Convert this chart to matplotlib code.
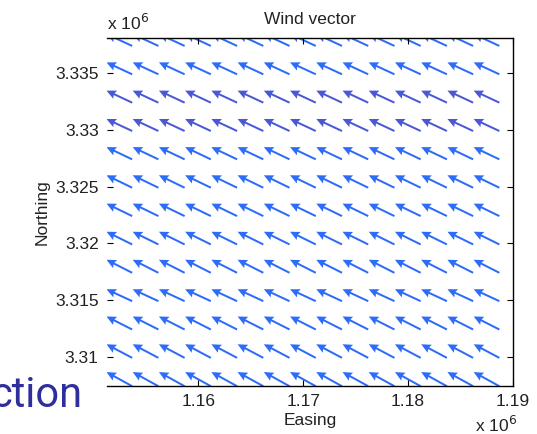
import matplotlib.pyplot as plt
import numpy as np

# grid of station positions (UTM metres)
easting = [1153700, 1156200, 1158700, 1161200, 1163700, 1166200, 1168700, 1171200,
           1173700, 1176200, 1178700, 1181200, 1183700, 1186200, 1188700]
northing = [3307400, 3309900, 3312400, 3314900, 3317400, 3319900, 3322400,
            3324900, 3327400, 3329900, 3332400, 3334900, 3337400]

# wind components for each row of the grid (bottom to top)
u_row = [-2450, -2450, -2450, -2450, -2450, -2450, -2450, -2450, -2450, -2450, -2450, -2450, -2450]
v_row = [1250, 1200, 1150, 1050, 1150, 1120, 1100, 1100, 1080, 1060, 1060, 1050, 1050]

xticks = [1160000, 1170000, 1180000, 1190000]
xticklabels = ['1.16', '1.17', '1.18', '1.19']
yticks = [3310000, 3315000, 3320000, 3325000, 3330000, 3335000]
yticklabels = ['3.31', '3.315', '3.32', '3.325', '3.33', '3.335']

plt.rcParams['font.family'] = ['Liberation Sans', 'DejaVu Sans']

X, Y = np.meshgrid(easting, northing)
U = np.repeat(np.array(u_row, dtype=float)[:, None], len(easting), axis=1)
V = np.repeat(np.array(v_row, dtype=float)[:, None], len(easting), axis=1)

fig = plt.figure(figsize=(5.37, 4.34), dpi=100)
ax = fig.add_axes([107 / 537, 1 - 386 / 434, (513 - 107) / 537, (386 - 38) / 434])

cols = ['#2d6cf8'] * len(northing)
cols[9] = '#4b58d6'
cols[10] = '#4b58d6'
for i, yv in enumerate(northing):
    ax.quiver(X[i], Y[i], U[i], V[i], color=cols[i], angles='xy', scale_units='xy', scale=1,
              pivot='tail', units='dots', width=2.0, headwidth=4.5, headlength=4.8,
              headaxislength=4.2, clip_on=True)

ax.set_xlim(1151300, 1190000)
ax.set_ylim(3307420, 3338100)

ax.set_xticks(xticks)
ax.set_xticklabels(xticklabels)
ax.set_yticks(yticks)
ax.set_yticklabels(yticklabels)
ax.tick_params(direction='in', length=4, width=0.8, top=True, right=True,
               labelsize=12.5, labelcolor='#222222', pad=6)
ax.spines['left'].set_visible(False)
for s in ['top', 'right', 'bottom']:
    ax.spines[s].set_linewidth(1.0)

ax.set_title('Wind vector', fontsize=12.5, color='#222222', pad=10)
ax.set_xlabel('Easing', fontsize=12.5, color='#222222', labelpad=3)
ax.set_ylabel('Northing', fontsize=12.5, color='#222222', labelpad=4)

# scale factors for the axes
fig.text(107 / 537, 1 - 30 / 434, r'x 10$^6$', fontsize=12.5, color='#222222',
         ha='left', va='baseline')
fig.text(517 / 537, 1 - 432 / 434, r'x 10$^6$', fontsize=12.5, color='#222222',
         ha='right', va='baseline')

fig.text(82 / 537, 1 - 407 / 434, 'ction', fontsize=30, color='#2e2e9c',
         family='Roboto', ha='right', va='baseline')

fig.savefig('out.png', dpi=100)
